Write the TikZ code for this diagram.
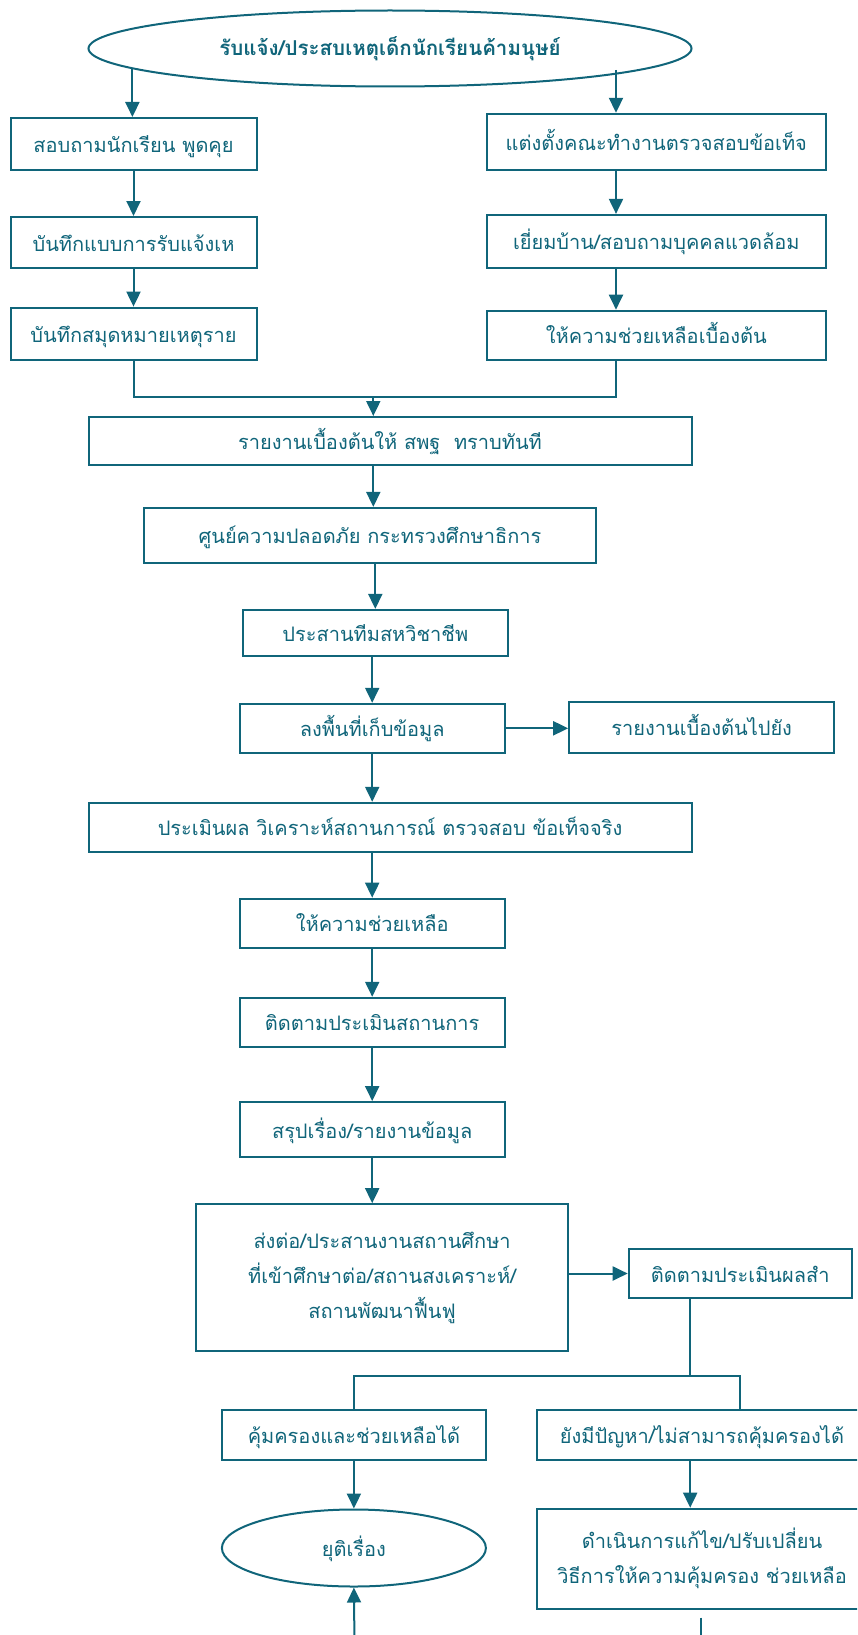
\documentclass[tikz,border=0pt]{standalone}
\usepackage{fontspec}
\newfontfamily\thaifont[Script=Thai]{Loma}
\usetikzlibrary{shapes.geometric, arrows.meta}
\definecolor{flowTeal}{HTML}{10657A}

\begin{document}
\begin{tikzpicture}[
    x=1pt, y=-1pt,
    stepBox/.style={draw=flowTeal, line width=2pt, rectangle, inner sep=0pt, align=center, text=flowTeal, text height=18pt, text depth=1pt},
    endOval/.style={draw=flowTeal, line width=2pt, ellipse, inner sep=0pt, align=center, text=flowTeal},
    >={Triangle[length=15pt, width=14pt]},
    line/.style={draw=flowTeal, line width=2pt},
    arr/.style={line, ->},
    every node/.style={font=\thaifont\fontsize{20}{35}\selectfont},
]
\useasboundingbox (0,0) rectangle (857,1635);
\clip (0,0) rectangle (857,1635);
\node[endOval, minimum width=603pt, minimum height=76pt, font=\thaifont\bfseries\fontsize{20.5}{24}\selectfont] (top) at (390,48.5) {รับแจ้ง/ประสบเหตุเด็กนักเรียนค้ามนุษย์};
\node[stepBox, minimum width=246pt, minimum height=52pt] (ask)      at (133.5,144)   {สอบถามนักเรียน พูดคุย};
\node[stepBox, minimum width=246pt, minimum height=51pt] (form)     at (133.5,242.5) {บันทึกแบบการรับแจ้งเห};
\node[stepBox, minimum width=246pt, minimum height=52pt] (diary)    at (133.5,333.6) {บันทึกสมุดหมายเหตุราย};
\node[stepBox, minimum width=339pt, minimum height=56pt] (team)     at (656.3,141.8) {แต่งตั้งคณะทำงานตรวจสอบข้อเท็จ};
\node[stepBox, minimum width=339pt, minimum height=53pt] (visit)    at (656.3,241.4) {เยี่ยมบ้าน/สอบถามบุคคลแวดล้อม};
\node[stepBox, minimum width=339pt, minimum height=49pt] (firstaid) at (656.3,335.2) {ให้ความช่วยเหลือเบื้องต้น};
\node[stepBox, minimum width=603pt, minimum height=48pt] (report)   at (390,441)     {รายงานเบื้องต้นให้ สพฐ\ \ ทราบทันที};
\node[stepBox, minimum width=452pt, minimum height=55pt] (centre)   at (370,535.4)   {ศูนย์ความปลอดภัย กระทรวงศึกษาธิการ};
\node[stepBox, minimum width=265pt, minimum height=46pt] (multi)    at (375.3,632.9) {ประสานทีมสหวิชาชีพ};
\node[stepBox, minimum width=265pt, minimum height=49pt] (field)    at (372.2,728.3) {ลงพื้นที่เก็บข้อมูล};
\node[stepBox, minimum width=265pt, minimum height=51pt] (sendto)   at (701.7,727.2) {รายงานเบื้องต้นไปยัง};
\node[stepBox, minimum width=603pt, minimum height=49pt] (assess)   at (390,827.3)   {ประเมินผล วิเคราะห์สถานการณ์ ตรวจสอบ ข้อเท็จจริง};
\node[stepBox, minimum width=265pt, minimum height=49pt] (help)     at (372.2,923.2) {ให้ความช่วยเหลือ};
\node[stepBox, minimum width=265pt, minimum height=49pt] (follow)   at (372.2,1022.3) {ติดตามประเมินสถานการ};
\node[stepBox, minimum width=265pt, minimum height=55pt] (summary)  at (372.2,1129.6) {สรุปเรื่อง/รายงานข้อมูล};
\node[stepBox, text height={}, text depth={}, minimum width=372pt, minimum height=147pt] (refer) at (382.1,1277.7) {ส่งต่อ/ประสานงานสถานศึกษา\\ที่เข้าศึกษาต่อ/สถานสงเคราะห์/\\สถานพัฒนาฟื้นฟู};
\node[stepBox, minimum width=223pt, minimum height=49pt] (result)   at (740.2,1273.5) {ติดตามประเมินผลสำ};
\node[stepBox, minimum width=264pt, minimum height=50pt] (safe)     at (353.9,1434.6) {คุ้มครองและช่วยเหลือได้};
\node[stepBox, minimum width=330pt, minimum height=50pt] (unsafe)   at (702,1434.6)  {ยังมีปัญหา/ไม่สามารถคุ้มครองได้};
\node[endOval, text height=18pt, text depth=1pt, minimum width=264pt, minimum height=77pt] (close) at (353.9,1548) {ยุติเรื่อง};
\node[stepBox, text height={}, text depth={}, minimum width=330pt, minimum height=100pt] (revise) at (702,1558.7) {ดำเนินการแก้ไข/ปรับเปลี่ยน\\วิธีการให้ความคุ้มครอง ช่วยเหลือ};
\coordinate (topL)      at (132.4,68);
\coordinate (topR)      at (616,70);
\coordinate (rcol)      at (616,0);
\coordinate (join)      at (373.3,397.2);
\coordinate (split)     at (690.2,1376.2);
\coordinate (fromBelow) at (354.5,1645);
\coordinate (toBelow)   at (700.6,1645);
\draw[arr] (topL) -- (topL |- ask.north);
\draw[arr] (topR) -- (topR |- team.north);
\draw[arr] (ask) -- (form);
\draw[arr] (form) -- (diary);
\draw[arr] (team.south -| rcol) -- (visit.north -| rcol);
\draw[arr] (visit.south -| rcol) -- (firstaid.north -| rcol);
\draw[line] (diary.south) |- (join) -| (firstaid.south -| rcol);
\draw[arr] (join) -- (report.north -| join);
\draw[arr] (report.south -| join) -- (centre.north -| join);
\draw[arr] (centre.south -| multi.north) -- (multi.north);
\draw[arr] (multi.south -| field.north) -- (field.north);
\draw[arr] (field.east) -- (field.east -| sendto.west);
\draw[arr] (field.south) -- (assess.north -| field.south);
\draw[arr] (assess.south -| help.north) -- (help.north);
\draw[arr] (help) -- (follow);
\draw[arr] (follow) -- (summary);
\draw[arr] (summary.south) -- (refer.north -| summary.south);
\draw[arr] (refer.east |- result) -- (result.west);
\draw[line] (result.south -| split) -- (split);
\draw[line] (safe.north) |- (split) -| (unsafe.north -| result.center);
\draw[arr] (safe) -- (close);
\draw[arr] (unsafe.south -| split) -- (revise.north -| split);
\draw[arr] (fromBelow) -- (close.south);
\draw[line, shorten <=8pt] (revise.south -| toBelow) -- (toBelow);
\end{tikzpicture}
\end{document}
